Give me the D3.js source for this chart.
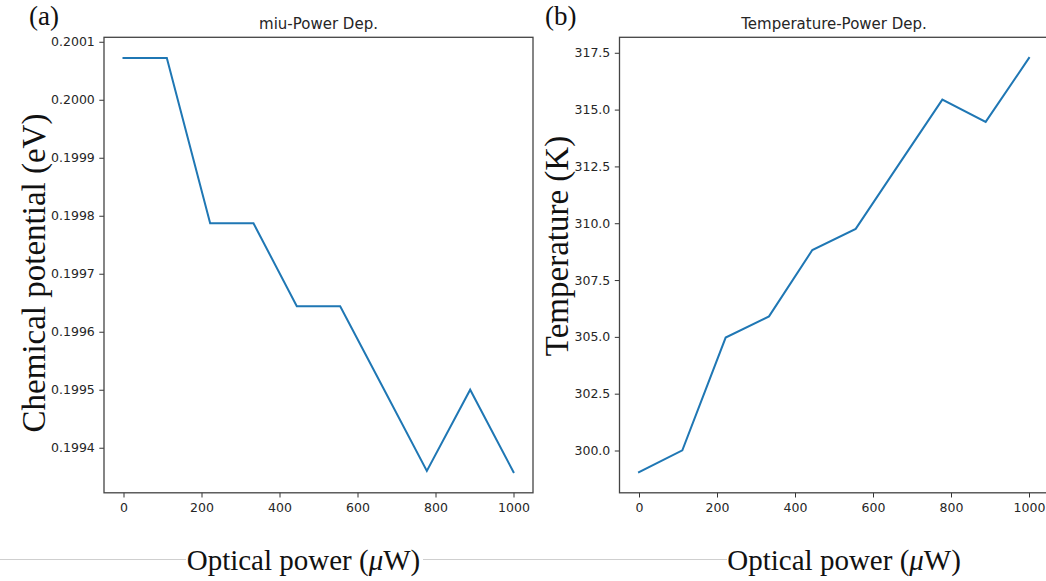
<!DOCTYPE html>
<html>
<head>
<meta charset="utf-8">
<script src="https://cdn.jsdelivr.net/npm/d3@7"></script>
<style>
  html, body { margin: 0; padding: 0; background: #fff; }
  svg { display: block; }
</style>
</head>
<body>
<svg id="chart" width="1046" height="581"></svg>
<script>
// ---- data ----
const power = [0, 111.1, 222.2, 333.3, 444.4, 555.6, 666.7, 777.8, 888.9, 1000];
const chemPotential = [0.200072, 0.200072, 0.199787, 0.199787, 0.199644, 0.199644, 0.199502, 0.199360, 0.199500, 0.199358];
const temperature = [299.05, 300.01, 304.97, 305.90, 308.82, 309.75, 312.60, 315.44, 314.46, 317.27];
const xTicks = [0, 200, 400, 600, 800, 1000];
const muTicks = [0.1994, 0.1995, 0.1996, 0.1997, 0.1998, 0.1999, 0.2000, 0.2001];
const tempTicks = [300.0, 302.5, 305.0, 307.5, 310.0, 312.5, 315.0, 317.5];
const titles = ["miu-Power Dep.", "Temperature-Power Dep."];
const panelLabels = ["(a)", "(b)"];
const yLabels = ["Chemical potential (eV)", "Temperature (K)"];

(function () {
const svg = d3.select("#chart");
const serif = "'Liberation Serif', 'Times New Roman', serif";
const sans = "'DejaVu Sans', sans-serif";

function padDomain(vals) {
  const [lo, hi] = d3.extent(vals);
  const m = (hi - lo) * 0.05;
  return [lo - m, hi + m];
}

const axTop = 37.3, axBottom = 492.8;

const panels = [
  { left: 104, right: 533, values: chemPotential, ticks: muTicks, fmt: d3.format(".4f"),
    title: titles[0], label: panelLabels[0], labelX: 29, ylabel: yLabels[0], ylabelX: 45, ylabelY: 273, xlabelX: 186.7 },
  { left: 619.5, right: 1048.5, values: temperature, ticks: tempTicks, fmt: d3.format(".1f"),
    title: titles[1], label: panelLabels[1], labelX: 545, ylabel: yLabels[1], ylabelX: 568, ylabelY: 246, xlabelX: 727.3 }
];

// light divider line (document element)
svg.append("line").attr("x1", 0).attr("x2", 186).attr("y1", 559.5).attr("y2", 559.5)
  .attr("stroke", "#cfcfcf").attr("stroke-width", 1);
svg.append("line").attr("x1", 423).attr("x2", 727).attr("y1", 559.5).attr("y2", 559.5)
  .attr("stroke", "#cfcfcf").attr("stroke-width", 1);

panels.forEach(p => {
  const x = d3.scaleLinear().domain([-50, 1050]).range([p.left, p.right]);
  const y = d3.scaleLinear().domain(padDomain(p.values)).range([axBottom, axTop]);
  const g = svg.append("g");

  const xa = g.append("g").attr("transform", `translate(0,${axBottom})`)
    .call(d3.axisBottom(x).tickValues(xTicks).tickSize(4.7).tickPadding(6).tickFormat(d3.format("d")));
  const ya = g.append("g").attr("transform", `translate(${p.left},0)`)
    .call(d3.axisLeft(y).tickValues(p.ticks).tickSize(4.7).tickPadding(4.5).tickFormat(p.fmt));
  [xa, ya].forEach(a => {
    a.select(".domain").remove();
    a.selectAll(".tick line").attr("stroke", "#333").attr("stroke-width", 1);
    a.selectAll(".tick text").attr("fill", "#262626").style("font-family", sans).style("font-size", "12.5px");
  });

  const line = d3.line().x((d, i) => x(power[i])).y(d => y(d));
  g.append("path").datum(p.values).attr("d", line)
    .attr("fill", "none").attr("stroke", "#1f77b4").attr("stroke-width", 2)
    .attr("stroke-linejoin", "miter").attr("stroke-linecap", "square");

  g.append("rect").attr("x", p.left).attr("y", axTop)
    .attr("width", p.right - p.left).attr("height", axBottom - axTop)
    .attr("fill", "none").attr("stroke", "#444").attr("stroke-width", 1.3);

  g.append("text").attr("x", (p.left + p.right) / 2).attr("y", 28.5)
    .attr("text-anchor", "middle").style("font-family", sans).style("font-size", "15px")
    .attr("fill", "#262626").text(p.title);

  g.append("text").attr("x", p.labelX).attr("y", 25)
    .style("font-family", serif).style("font-size", "27px").attr("fill", "#111").text(p.label);

  g.append("text").attr("transform", `translate(${p.ylabelX},${p.ylabelY}) rotate(-90)`)
    .attr("text-anchor", "middle").style("font-family", serif).style("font-size", "33px")
    .attr("fill", "#111").text(p.ylabel);

  const xl = g.append("text").attr("x", p.xlabelX).attr("y", 570)
    .style("font-family", serif).style("font-size", "29px").attr("fill", "#111");
  xl.append("tspan").text("Optical power (");
  xl.append("tspan").style("font-style", "italic").text("\u03bc");
  xl.append("tspan").text("W)");
});
})();
</script>
</body>
</html>
